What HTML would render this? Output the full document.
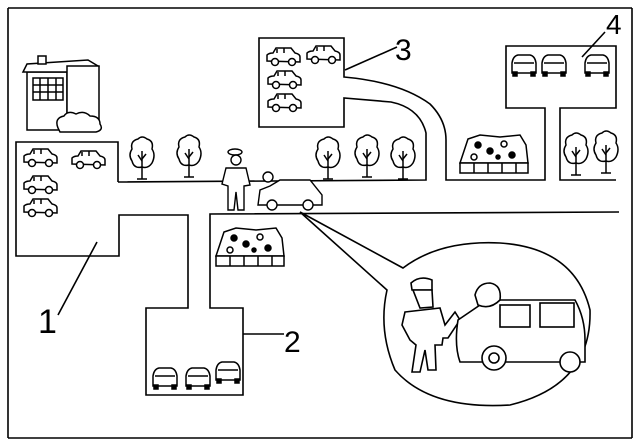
<!DOCTYPE html>
<html><head><meta charset="utf-8"><style>
html,body{margin:0;padding:0;background:#fff;width:640px;height:448px;overflow:hidden}
svg{display:block}
text{font-family:"Liberation Sans",sans-serif;fill:#000}
</style></head><body>
<svg width="640" height="448" viewBox="0 0 640 448" xmlns="http://www.w3.org/2000/svg">
<defs>
<g id="car" fill="#fff" stroke="#000" stroke-width="1.5">
<path d="M2 14 L2 8 Q4 6 8 6 L11 1 L26 1 L30 6 Q35 7 35 10 L35 15 Z"/>
<line x1="12" y1="2" x2="12" y2="6"/><line x1="19" y1="1" x2="19" y2="6"/>
<circle cx="10" cy="15" r="3.5"/><circle cx="27" cy="15" r="3.5"/>
</g>
<g id="fcar" fill="#fff" stroke="#000" stroke-width="1.5">
<path d="M2 20 L2 10 Q3 3 8 2 L20 2 Q25 3 26 10 L26 20 Z"/>
<line x1="4" y1="10" x2="24" y2="10"/>
<rect x="3" y="19" width="4" height="4" fill="#000"/><rect x="21" y="19" width="4" height="4" fill="#000"/>
</g>
<g id="tree" fill="#fff" stroke="#000" stroke-width="1.5">
<path d="M2 24 Q-2 18 2 12 Q0 4 8 2 Q12 -2 17 2 Q24 4 22 12 Q26 18 22 26 Q18 32 12 30 Q4 32 2 24 Z"/>
<line x1="12" y1="14" x2="12" y2="42"/><line x1="12" y1="24" x2="8" y2="18"/><line x1="12" y1="22" x2="16" y2="17"/>
<line x1="7" y1="42" x2="17" y2="42"/>
</g>
<g id="bed" fill="#fff" stroke="#000" stroke-width="1.5">
<path d="M0 28 L8 4 L20 0 L40 2 L60 0 L66 10 L68 28 Z"/>
<rect x="0" y="28" width="68" height="10"/>
<line x1="14" y1="28" x2="14" y2="38"/><line x1="28" y1="28" x2="28" y2="38"/><line x1="42" y1="28" x2="42" y2="38"/><line x1="56" y1="28" x2="56" y2="38"/>
<circle cx="18" cy="10" r="3" fill="#000"/><circle cx="30" cy="16" r="3" fill="#000"/><circle cx="44" cy="9" r="3"/><circle cx="52" cy="20" r="3" fill="#000"/><circle cx="14" cy="22" r="3"/><circle cx="38" cy="22" r="2" fill="#000"/>
</g>
</defs>
<g fill="none" stroke="#000" stroke-width="1.6">
<line x1="8" y1="8" x2="632" y2="8"/><line x1="8" y1="438" x2="632" y2="438"/>
<line x1="8" y1="8" x2="8" y2="438"/><line x1="632" y1="8" x2="632" y2="438"/>
<polyline points="118,182 118,142 16,142 16,256 119,256 119,215 188,215 188,308 146,308 146,395 243,395 243,308 210,308 210,214 619,212"/>
<path d="M118,182 L426,180 L426,133 Q420,108 391,102 L344,98 L344,127 L259,127 L259,38 L344,38 L344,77 Q400,82 430,104 Q446,120 446,140 L446,180 L545,180 L545,108 L506,108 L506,46 L616,46 L616,108 L560,108 L560,180 L616,180"/>
<line x1="58" y1="315" x2="97" y2="242"/>
<line x1="243" y1="334" x2="284" y2="334"/>
<line x1="345" y1="70" x2="397" y2="47"/>
<line x1="582" y1="57" x2="605" y2="32"/>
<path d="M300,212 L403,268 Q440,240 500,243 Q575,248 590,310 Q592,385 510,405 Q430,410 395,370 Q378,330 387,290 Z"/>
</g>
<text x="38" y="333" font-size="34">1</text>
<text x="284" y="352" font-size="30">2</text>
<text x="395" y="60" font-size="30">3</text>
<text x="606" y="34" font-size="28">4</text>
<g fill="#fff" stroke="#000" stroke-width="1.5">
<rect x="27" y="72" width="40" height="58"/><path d="M23 72 L27 64 L88 60 L98 66 L67 72 Z"/><rect x="67" y="66" width="32" height="55"/>
<rect x="33" y="78" width="30" height="22"/><line x1="40" y1="78" x2="40" y2="100"/><line x1="48" y1="78" x2="48" y2="100"/><line x1="56" y1="78" x2="56" y2="100"/><line x1="33" y1="85" x2="63" y2="85"/><line x1="33" y1="92" x2="63" y2="92"/>
<rect x="38" y="56" width="8" height="8"/>
<path d="M58 128 Q54 118 64 116 Q68 110 76 114 Q84 110 90 116 Q100 116 100 124 Q104 130 96 132 L60 132 Z"/>
</g>
<use href="#car" x="22" y="148"/><use href="#car" x="70" y="150"/><use href="#car" x="22" y="175"/><use href="#car" x="22" y="198"/>
<use href="#car" x="265" y="47"/><use href="#car" x="305" y="45"/><use href="#car" x="266" y="70"/><use href="#car" x="266" y="93"/>
<use href="#fcar" x="510" y="53"/><use href="#fcar" x="540" y="53"/><use href="#fcar" x="583" y="53"/>
<use href="#fcar" x="151" y="366"/><use href="#fcar" x="184" y="366"/><use href="#fcar" x="214" y="360"/>
<use href="#tree" x="130" y="137"/><use href="#tree" x="177" y="135"/><use href="#tree" x="316" y="137"/><use href="#tree" x="355" y="135"/><use href="#tree" x="391" y="137"/><use href="#tree" x="564" y="133"/><use href="#tree" x="594" y="131"/>
<use href="#bed" x="460" y="135"/><use href="#bed" x="216" y="228"/>
<g fill="#fff" stroke="#000" stroke-width="1.4">
<ellipse cx="235" cy="152" rx="7" ry="3"/><circle cx="236" cy="160" r="5"/>
<path d="M226 168 L246 168 L250 185 L244 186 L244 210 L238 210 L236 192 L234 210 L228 210 L228 186 L222 184 Z"/>
<path d="M258 205 L260 190 L270 186 L280 180 L310 180 L322 195 L322 205 Z"/>
<circle cx="272" cy="205" r="5"/><circle cx="308" cy="205" r="5"/>
<circle cx="268" cy="177" r="5"/>
</g>
<g fill="#fff" stroke="#000" stroke-width="1.6">
<path d="M411 283 Q420 275 432 280 L432 290 L412 290 Z"/>
<path d="M413 290 L432 290 L433 307 L420 308 Z"/>
<path d="M405 312 L440 308 L445 325 L455 312 L460 320 L448 338 L443 338 L442 345 L435 345 L436 370 L428 370 L425 350 L420 372 L412 372 L416 345 L410 340 L402 325 Z"/>
<path d="M458 320 L480 305 L485 300 L575 300 Q585 318 585 340 L585 362 L460 362 Q454 345 458 320 Z"/>
<rect x="500" y="305" width="30" height="22"/><rect x="540" y="303" width="34" height="24"/>
<circle cx="494" cy="358" r="12"/><circle cx="494" cy="358" r="5"/><circle cx="570" cy="362" r="10"/>
<path d="M475 295 Q478 283 490 283 Q502 285 500 300 Q490 310 478 305 Z"/>
</g>
</svg>
</body></html>
